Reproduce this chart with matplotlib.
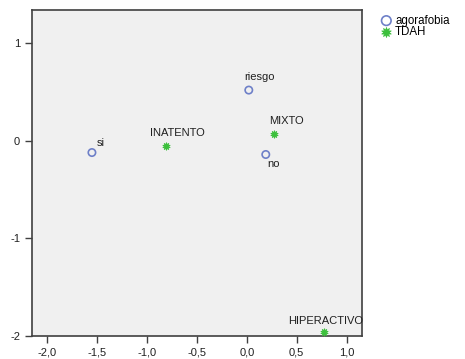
import matplotlib
matplotlib.use("Agg")
import matplotlib.pyplot as plt

plt.rcParams["font.family"] = ["Liberation Sans", "DejaVu Sans"]

# Category points for each variable (dimension 1, dimension 2)
agora_labels = ["si", "riesgo", "no"]
agora_x = [-1.55, 0.02, 0.19]
agora_y = [-0.12, 0.52, -0.14]

tdah_labels = ["INATENTO", "MIXTO", "HIPERACTIVO"]
tdah_x = [-0.81, 0.27, 0.77]
tdah_y = [-0.055, 0.07, -1.96]

x_ticks = [-2.0, -1.5, -1.0, -0.5, 0.0, 0.5, 1.0]
x_tick_labels = ["-2,0", "-1,5", "-1,0", "-0,5", "0,0", "0,5", "1,0"]
y_ticks = [-2, -1, 0, 1]
y_tick_labels = ["-2", "-1", "0", "1"]

# label offsets in pixels (dx, dy) from each point, text left-aligned
agora_offsets = [(5, 10), (-5, 13), (2, -10)]
tdah_offsets = [(-16, 13), (-5, 13), (-36, 11)]

BLUE = "#6e80c8"
GREEN = "#3cc03c"

fig = plt.figure(figsize=(4.65, 3.59), dpi=100)
ax = fig.add_axes([0.0688, 0.064, 0.709, 0.908])
ax.set_facecolor("#f0f0f0")

ax.scatter(agora_x, agora_y, s=28, facecolors="none", edgecolors=BLUE,
           linewidths=1.2, label="agorafobia", zorder=3)
ax.scatter(tdah_x, tdah_y, s=30, marker=(10, 1, 0), color=GREEN,
           linewidths=0.6, label="TDAH", zorder=3)

for lab, x, y, (dx, dy) in zip(agora_labels, agora_x, agora_y, agora_offsets):
    ax.annotate(lab, (x, y), xytext=(dx, dy), textcoords="offset pixels",
                ha="left", va="center", fontsize=8, color="#202020")
for lab, x, y, (dx, dy) in zip(tdah_labels, tdah_x, tdah_y, tdah_offsets):
    ax.annotate(lab, (x, y), xytext=(dx, dy), textcoords="offset pixels",
                ha="left", va="center", fontsize=8, color="#202020")

ax.set_xlim(-2.15, 1.15)
ax.set_ylim(-2.0, 1.34)
ax.set_xticks(x_ticks)
ax.set_xticklabels(x_tick_labels)
ax.set_yticks(y_ticks)
ax.set_yticklabels(y_tick_labels)
ax.tick_params(direction="out", length=5, width=1, colors="#404040",
               labelsize=8, labelcolor="#202020")

for sp in ax.spines.values():
    sp.set_color("#404040")
    sp.set_linewidth(1.2)

ax.legend(loc="upper left", bbox_to_anchor=(1.045, 1.0), frameon=False,
          fontsize=8.3, handletextpad=0.32, borderaxespad=0.0,
          labelspacing=-0.05, handlelength=0.9, markerscale=1.3)

fig.savefig("out.png", dpi=100)
